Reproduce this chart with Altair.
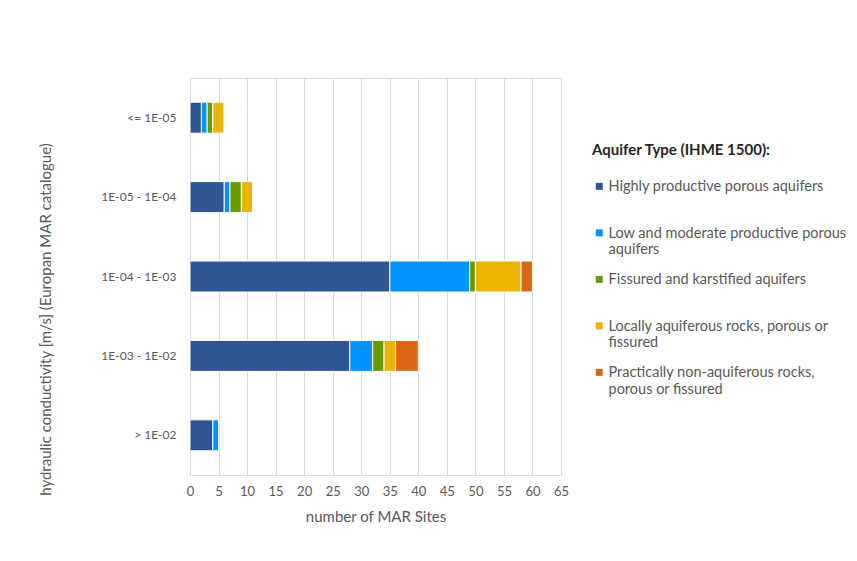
import altair as alt
import pandas as pd

categories = ["<= 1E-05", "1E-05 - 1E-04", "1E-04 - 1E-03", "1E-03 - 1E-02", "> 1E-02"]
aquifer_types = [
    "Highly productive porous aquifers",
    "Low and moderate productive porous aquifers",
    "Fissured and karstified aquifers",
    "Locally aquiferous rocks, porous or fissured",
    "Practically non-aquiferous rocks, porous or fissured",
]
legend_lines = [
    ["Highly productive porous aquifers", ""],
    ["Low and moderate productive porous", "aquifers"],
    ["Fissured and karstified aquifers", ""],
    ["Locally aquiferous rocks, porous or", "fissured"],
    ["Practically non-aquiferous rocks,", "porous or fissured"],
]
colors = ["#2F5597", "#0093FF", "#669A00", "#EAB400", "#DD6614"]

highly = [2, 6, 35, 28, 4]
low_moderate = [1, 1, 14, 4, 1]
fissured = [1, 2, 1, 2, 0]
locally = [2, 2, 8, 2, 0]
practically = [0, 0, 2, 4, 0]

series = [highly, low_moderate, fissured, locally, practically]
rows = []
for t_i, (t, vals) in enumerate(zip(aquifer_types, series)):
    for c, v in zip(categories, vals):
        rows.append({"range": c, "type": t, "order": t_i, "count": v})
df = pd.DataFrame(rows)

label_expr = ""
for t, lines in zip(aquifer_types, legend_lines):
    arr = "[" + ", ".join("'" + l + "'" for l in lines) + "]"
    label_expr += f"datum.label == '{t}' ? {arr} : "
label_expr += "datum.label"

FONT = "Lato"
GREY = "#595959"

chart = (
    alt.Chart(df)
    .mark_bar(stroke="white", strokeWidth=1)
    .encode(
        x=alt.X(
            "sum(count):Q",
            stack="zero",
            scale=alt.Scale(domain=[0, 65], nice=False),
            axis=alt.Axis(
                title="number of MAR Sites",
                values=list(range(0, 70, 5)),
                domain=False,
                ticks=False,
                labelFlush=False,
                labelPadding=10,
                titlePadding=11,
                gridColor="#D9D9D9",
                gridWidth=1,
                labelFont=FONT,
                labelFontSize=13,
                labelColor=GREY,
                titleFont=FONT,
                titleFontSize=15,
                titleFontWeight="normal",
                titleColor=GREY,
            ),
        ),
        y=alt.Y(
            "range:N",
            sort=categories,
            scale=alt.Scale(paddingInner=0.61, paddingOuter=0.305),
            axis=alt.Axis(
                title="hydraulic conductivity [m/s] (Europan MAR catalogue)",
                domain=False,
                ticks=False,
                grid=False,
                labelPadding=14,
                labelFont=FONT,
                labelFontSize=12,
                labelColor=GREY,
                titleFont=FONT,
                titleFontSize=15,
                titleFontWeight="normal",
                titleColor=GREY,
                titleAngle=270,
                titleX=-145,
                titleY=241,
                titleAlign="center",
                titleBaseline="middle",
            ),
        ),
        color=alt.Color(
            "type:N",
            sort=aquifer_types,
            scale=alt.Scale(domain=aquifer_types, range=colors),
            legend=alt.Legend(
                title="Aquifer Type (IHME 1500):",
                orient="none",
                legendX=402,
                legendY=65,
                titleFont=FONT,
                titleFontSize=15,
                titleFontWeight="bold",
                titleColor="#262626",
                titlePadding=15,
                labelFont=FONT,
                labelFontSize=14.5,
                labelColor=GREY,
                labelBaseline="top",
                labelOffset=2,
                labelLimit=400,
                labelExpr=label_expr,
                symbolType="M-1,0.75H1V2.75H-1Z",
                symbolSize=49,
                symbolStrokeWidth=0,
                symbolOpacity=1,
                rowPadding=8.5,
            ),
        ),
        order=alt.Order("order:Q", sort="ascending"),
    )
    .properties(
        width=371,
        height=397,
        autosize=alt.AutoSizeParams(type="none"),
        padding={"left": 182, "top": 70, "right": 288, "bottom": 70},
    )
    .configure_view(stroke=None)
    .configure(background="white")
)

chart.save("out.html", embed_options={"renderer": "svg", "actions": False})
